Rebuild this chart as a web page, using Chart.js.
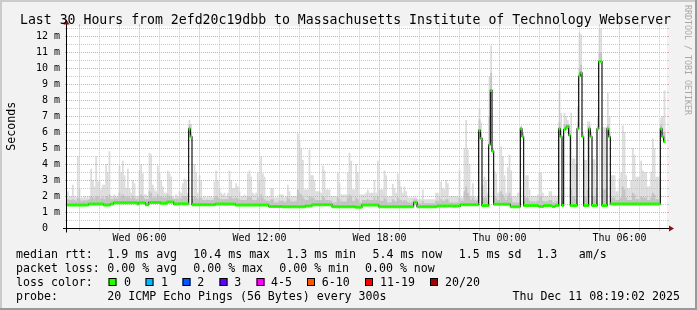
<!DOCTYPE html>
<html><head><meta charset="utf-8">
<script src="https://cdn.jsdelivr.net/npm/chart.js@4.4.1/dist/chart.umd.min.js"></script>
<style>html,body{margin:0;padding:0;background:#f2f2f2;}canvas{display:block;}</style>
</head><body>
<canvas id="c" width="697" height="310" style="width:697px;height:310px"></canvas>
<script>
const titleText = 'Last 30 Hours from 2efd20c19dbb to Massachusetts Institute of Technology Webserver';
const yAxisTitle = 'Seconds';
const watermark = 'RRDTOOL / TOBI OETIKER';

// time axis: one sample every 5 minutes, first sample starts Wed 02:24 (hours counted from Wed 00:00)
const startHour = 2.4;
const samplesPerHour = 12;
const xTickHours = [6, 12, 18, 24, 30];
const xTickLabels = ['Wed 06:00', 'Wed 12:00', 'Wed 18:00', 'Thu 00:00', 'Thu 06:00'];
const yTickValues = [0,1,2,3,4,5,6,7,8,9,10,11,12];
const yTickLabels = ['0  ','1 m','2 m','3 m','4 m','5 m','6 m','7 m','8 m','9 m','10 m','11 m','12 m'];

// median rtt in ms, one per 5-minute sample
const medianRtt = [
 1.44,1.44,1.44,1.44,1.44,1.44,1.44,1.44,1.44,1.44,
 1.44,1.44,1.44,1.5,1.5,1.5,1.5,1.5,1.5,1.5,
 1.5,1.5,1.44,1.44,1.44,1.44,1.5,1.5,1.58,1.58,
 1.58,1.58,1.58,1.58,1.58,1.58,1.58,1.58,1.58,1.58,
 1.58,1.58,1.5,1.58,1.58,1.58,1.58,1.45,1.45,1.6,
 1.6,1.6,1.6,1.6,1.6,1.6,1.55,1.55,1.55,1.55,
 1.62,1.62,1.62,1.62,1.5,1.5,1.5,1.52,1.52,1.52,
 1.52,1.52,1.52,6.2,5.7,1.46,1.46,1.46,1.46,1.46,
 1.46,1.46,1.46,1.46,1.46,1.46,1.46,1.46,1.46,1.5,
 1.5,1.5,1.5,1.5,1.5,1.5,1.5,1.5,1.5,1.5,
 1.5,1.44,1.44,1.44,1.44,1.44,1.44,1.44,1.44,1.44,
 1.44,1.44,1.44,1.44,1.44,1.44,1.44,1.44,1.44,1.44,
 1.44,1.35,1.35,1.35,1.35,1.35,1.35,1.35,1.35,1.33,
 1.33,1.33,1.33,1.33,1.33,1.33,1.33,1.33,1.33,1.33,
 1.33,1.33,1.33,1.38,1.38,1.38,1.38,1.45,1.45,1.45,
 1.45,1.45,1.45,1.45,1.45,1.45,1.45,1.45,1.45,1.33,
 1.33,1.33,1.33,1.33,1.33,1.33,1.33,1.33,1.33,1.33,
 1.33,1.33,1.33,1.3,1.3,1.3,1.3,1.44,1.44,1.44,
 1.44,1.44,1.44,1.44,1.44,1.44,1.44,1.33,1.33,1.33,
 1.33,1.33,1.33,1.33,1.33,1.33,1.33,1.33,1.33,1.33,
 1.33,1.33,1.33,1.33,1.33,1.33,1.33,1.33,1.6,1.6,
 1.33,1.33,1.33,1.33,1.33,1.33,1.33,1.33,1.33,1.33,
 1.33,1.33,1.37,1.37,1.37,1.37,1.37,1.37,1.37,1.37,
 1.37,1.37,1.37,1.37,1.37,1.37,1.46,1.46,1.46,1.46,
 1.46,1.46,1.46,1.46,1.46,1.46,1.46,6.1,5.6,1.4,
 1.4,1.4,1.4,5.2,8.6,4.8,1.48,1.48,1.48,1.48,
 1.48,1.48,1.48,1.48,1.48,1.48,1.33,1.33,1.33,1.33,
 1.33,1.33,6.2,5.7,1.4,1.4,1.4,1.4,1.4,1.4,
 1.4,1.4,1.4,1.35,1.35,1.35,1.4,1.4,1.4,1.4,
 1.4,1.35,1.35,1.4,1.4,6.2,5.7,1.4,6.15,6.25,
 6.35,5.8,1.4,1.4,1.4,1.4,6.2,9.5,9.7,5.7,
 1.4,1.4,1.4,6.2,5.7,1.4,1.4,1.4,6.2,10.4,
 10.4,1.4,1.4,1.4,6.2,5.7,1.5,1.5,1.5,1.5,
 1.5,1.5,1.5,1.5,1.5,1.5,1.5,1.5,1.5,1.5,
 1.5,1.5,1.5,1.5,1.5,1.5,1.5,1.5,1.5,1.5,
 1.5,1.5,1.5,1.5,1.5,1.5,6.2,5.7,5.4,null
];

// top of the smoke (highest ping) in ms
const smokeHigh = [
 2.3,2.0,2.0,2.7,2.0,1.9,4.5,2.5,1.9,1.9,
 2.0,1.9,2.0,1.9,3.7,3.0,2.6,4.5,2.9,3.0,
 2.4,2.7,2.7,4.0,3.5,4.8,2.0,2.0,2.1,2.0,
 2.0,3.9,3.5,4.2,3.3,2.5,3.7,2.5,2.2,3.0,
 2.8,2.0,2.0,3.6,4.0,3.4,2.1,2.1,2.0,4.7,
 4.6,2.7,2.4,2.3,3.9,3.5,3.0,2.6,2.2,2.2,
 3.6,3.4,3.2,2.0,1.9,2.1,2.0,2.3,2.2,2.8,
 3.1,3.0,2.2,6.75,6.5,2.0,4.0,3.5,2.2,3.3,
 3.0,1.9,2.0,1.9,2.0,1.9,2.0,1.9,2.9,3.6,
 3.0,2.5,2.2,2.1,2.2,2.0,2.2,3.6,3.0,2.5,
 2.5,2.8,2.6,2.3,2.0,2.0,2.1,2.0,3.4,3.6,
 3.2,2.2,2.1,2.2,3.5,3.0,4.5,3.4,3.2,2.0,
 2.0,2.0,2.5,2.5,1.9,1.9,1.9,2.1,2.1,2.1,
 1.9,2.0,2.7,2.3,2.0,2.0,2.0,2.0,5.9,5.5,
 5.0,4.25,2.4,2.4,2.4,4.9,3.3,3.3,3.0,2.3,
 2.3,2.3,2.2,3.9,3.6,2.4,2.4,2.4,2.0,2.0,
 2.0,2.0,3.5,2.8,2.1,2.1,2.1,2.1,3.5,4.7,
 4.2,2.4,2.4,4.0,3.5,2.1,2.1,2.1,2.1,2.2,
 2.4,2.2,2.2,2.2,3.0,2.2,4.2,2.4,2.4,2.4,
 3.6,3.3,2.0,2.0,2.0,2.75,2.5,2.2,3.4,3.0,
 2.6,2.2,2.6,2.3,1.9,1.9,1.9,1.9,1.95,1.9,
 1.8,1.8,1.8,2.4,1.8,1.8,1.8,1.8,1.8,1.8,
 1.8,2.2,2.2,2.0,2.9,2.5,2.4,3.0,2.8,2.0,
 2.0,2.0,2.0,2.0,2.0,3.6,1.9,1.9,5.0,6.75,
 4.9,4.0,2.0,2.8,2.0,1.9,2.0,7.5,6.6,2.7,
 3.2,3.0,2.2,9.5,11.4,5.0,3.6,3.4,2.2,2.2,
 5.1,4.5,3.3,2.2,3.8,4.6,3.6,2.0,2.0,2.0,
 2.2,2.2,6.4,6.0,2.0,3.3,3.3,2.4,2.0,2.0,
 2.0,2.0,2.1,3.5,3.5,2.2,2.0,2.0,2.0,2.3,
 2.3,2.0,2.0,2.0,2.0,8.6,7.2,2.0,7.2,7.0,
 6.75,6.5,7.2,4.35,4.35,4.0,7.6,12.2,12.1,6.0,
 4.25,4.25,6.65,6.65,6.0,4.3,4.3,2.5,7.0,12.5,
 12.5,6.3,6.3,6.3,8.45,7.0,3.3,3.3,3.3,2.3,
 2.3,3.1,3.5,6.4,6.0,3.3,2.5,2.5,3.0,5.0,
 4.6,3.2,3.2,3.2,4.2,3.6,3.5,3.5,2.6,2.6,
 3.5,5.6,5.0,3.2,3.2,3.2,6.9,7.0,8.6,null
];

// top of the dense (darker) part of the smoke in ms
const smokeDense = [
 1.8,1.75,1.75,1.8,1.75,1.7,1.9,1.8,1.7,1.7,
 1.75,1.7,1.75,1.8,2.0,1.9,1.85,2.0,2.0,1.9,
 1.85,1.9,1.8,2.0,1.9,2.1,1.8,1.8,1.9,1.85,
 1.85,2.2,2.0,2.1,2.0,1.9,2.0,1.9,1.85,2.0,
 1.9,1.8,1.8,2.0,2.1,2.0,1.85,1.8,1.8,2.3,
 2.2,1.9,1.9,1.9,2.1,2.0,2.0,1.9,1.9,1.9,
 2.1,2.0,2.0,1.85,1.8,1.85,1.8,1.9,1.85,2.0,
 2.0,2.0,1.85,6.5,6.0,1.8,2.0,1.9,1.8,1.9,
 1.9,1.75,1.75,1.75,1.75,1.75,1.75,1.75,1.9,2.0,
 1.9,1.85,1.8,1.8,1.8,1.8,1.8,2.0,1.9,1.85,
 1.85,1.9,1.85,1.8,1.75,1.75,1.75,1.75,1.9,2.0,
 1.9,1.75,1.75,1.75,1.9,1.8,2.1,1.9,1.8,1.7,
 1.7,1.65,1.8,1.8,1.6,1.6,1.6,1.7,1.7,1.7,
 1.6,1.65,1.9,1.8,1.65,1.65,1.65,1.7,2.4,2.2,
 2.1,1.9,1.8,1.75,1.75,2.0,1.9,1.9,1.85,1.75,
 1.75,1.75,1.75,2.0,1.9,1.75,1.75,1.75,1.7,1.6,
 1.6,1.6,1.9,1.8,1.65,1.65,1.65,1.65,1.9,2.1,
 2.0,1.7,1.7,1.9,1.8,1.6,1.6,1.75,1.75,1.75,
 1.8,1.75,1.75,1.75,1.9,1.75,2.0,1.7,1.7,1.7,
 1.9,1.8,1.6,1.6,1.6,1.8,1.7,1.65,1.9,1.8,
 1.75,1.65,1.75,1.7,1.6,1.6,1.6,1.6,1.8,1.8,
 1.55,1.55,1.55,1.7,1.55,1.55,1.55,1.55,1.55,1.55,
 1.55,1.7,1.7,1.6,1.8,1.7,1.7,1.8,1.8,1.6,
 1.6,1.6,1.6,1.6,1.6,1.9,1.7,1.7,2.3,2.6,
 2.2,2.0,1.75,1.9,1.75,1.7,1.75,6.8,6.0,1.9,
 1.9,1.9,1.7,7.0,9.7,4.9,2.0,1.9,1.75,1.75,
 2.3,2.1,1.9,1.75,2.0,2.2,1.9,1.6,1.6,1.6,
 1.6,1.6,6.3,5.9,1.7,1.9,1.9,1.7,1.65,1.65,
 1.65,1.65,1.7,2.0,2.0,1.7,1.65,1.65,1.65,1.75,
 1.75,1.6,1.6,1.65,1.65,6.6,6.1,1.7,6.5,6.5,
 6.5,6.1,2.5,2.0,2.0,1.8,6.6,10.0,10.2,5.8,
 2.0,2.0,2.4,6.4,5.85,2.0,2.0,1.8,6.4,11.0,
 11.0,2.4,2.4,2.4,6.5,6.0,1.9,1.9,1.9,1.75,
 1.75,1.8,1.9,2.6,2.4,1.9,1.75,1.75,1.75,2.2,
 2.1,1.8,1.8,1.8,2.0,1.9,1.9,1.9,1.75,1.75,
 1.9,2.2,2.1,1.8,1.8,1.8,6.5,6.0,6.0,null
];

const legendRows = [
  [[16,'median rtt:'],[107.3,'1.9 ms avg'],[193.3,'10.4 ms max'],[286.3,'1.3 ms min'],[372.5,'5.4 ms now'],[458.7,'1.5 ms sd'],[536.4,'1.3'],[578.7,'am/s']],
  [[16,'packet loss:'],[107.3,'0.00 % avg'],[193.3,'0.00 % max'],[279.3,'0.00 % min'],[365,'0.00 % now']],
  [[16,'loss color:']],
  [[16,'probe:'],[107.3,'20 ICMP Echo Pings (56 Bytes) every 300s']]
];
const legendBaselines = [258, 271.8, 285.7, 299.6];
const lossLabels = ['0','1','2','3','4-5','6-10','11-19','20/20'];
const lossColors = ['#26ff00','#00b8ff','#0059ff','#5e00ff','#ff00ff','#ff5500','#ff0000','#a10000'];
const lossBoxX = [108.5,145.5,182.5,219.5,256.5,307,365,430];
const lossTextX = [124,161,197.3,234.3,271,321.7,380,445];
const stampText = 'Thu Dec 11 08:19:02 2025';

const labels = medianRtt.map((_, i) => i);
const lightData = medianRtt.map((m, i) => (m === null || smokeHigh[i] === null) ? null : [m, smokeHigh[i]]);
const denseData = medianRtt.map((m, i) => (m === null || smokeDense[i] === null) ? null : [m, smokeDense[i]]);

const MONO = '"DejaVu Sans Mono", "Liberation Mono", monospace';
function hourToValue(h) { return (h - startHour) * samplesPerHour - 0.5; }

const rrdPlugin = {
  id: 'rrd',
  beforeDraw(chart) {
    const ctx = chart.ctx, a = chart.chartArea;
    ctx.save();
    ctx.fillStyle = '#f2f2f2'; ctx.fillRect(0, 0, 697, 310);
    ctx.fillStyle = '#cbcbcb'; ctx.fillRect(0, 0, 697, 2); ctx.fillRect(0, 0, 2, 310);
    ctx.fillStyle = '#999999'; ctx.fillRect(0, 308, 697, 2); ctx.fillRect(695, 0, 2, 310);
    ctx.fillStyle = '#ffffff'; ctx.fillRect(a.left, a.top, a.right - a.left, a.bottom - a.top);
    ctx.restore();
  },
  beforeDatasetDraw(chart, args) {
    if (args.meta.type !== 'line') return;
    const ctx = chart.ctx, a = chart.chartArea;
    const xs = chart.scales.x, ys = chart.scales.y;
    const red = '#eea0a0', gray = '#c8c8c8';
    ctx.save();
    ctx.lineWidth = 1;
    // horizontal grid each 0.5 ms
    for (let k = 1; k <= 25; k++) {
      const v = k * 0.5;
      if (v > ys.max) break;
      const y = Math.round(ys.getPixelForValue(v)) + 0.5;
      const col = (k % 2 === 0) ? red : gray;
      ctx.strokeStyle = col;
      ctx.setLineDash([1, 1]);
      ctx.beginPath(); ctx.moveTo(a.left, y); ctx.lineTo(a.right, y); ctx.stroke();
      ctx.setLineDash([]);
      ctx.beginPath(); ctx.moveTo(a.left - 2, y); ctx.lineTo(a.left, y);
      ctx.moveTo(a.right, y); ctx.lineTo(a.right + 2, y); ctx.stroke();
    }
    // vertical grid every hour, major every 3 hours
    for (let h = Math.ceil(startHour); hourToValue(h) < xs.max + 0.5; h++) {
      const x = Math.round(xs.getPixelForValue(hourToValue(h))) + 0.5;
      if (x >= a.right) break;
      ctx.strokeStyle = (h % 3 === 0) ? red : gray;
      ctx.setLineDash([1, 1]);
      ctx.beginPath(); ctx.moveTo(x, a.top); ctx.lineTo(x, a.bottom); ctx.stroke();
      ctx.setLineDash([]);
      ctx.beginPath(); ctx.moveTo(x, a.top - 2); ctx.lineTo(x, a.top);
      ctx.moveTo(x, a.bottom); ctx.lineTo(x, a.bottom + 3); ctx.stroke();
    }
    ctx.restore();
  },
  afterDraw(chart) {
    const ctx = chart.ctx, a = chart.chartArea;
    const xs = chart.scales.x, ys = chart.scales.y;
    ctx.save();
    // axes
    const x0 = Math.round(a.left) - 0.5, y0 = Math.round(ys.getPixelForValue(0)) + 0.5;
    ctx.strokeStyle = '#000'; ctx.lineWidth = 1;
    ctx.beginPath();
    ctx.moveTo(a.left - 4, y0); ctx.lineTo(a.right + 4, y0);
    ctx.moveTo(x0, y0 + 4); ctx.lineTo(x0, a.top - 4);
    ctx.stroke();
    ctx.fillStyle = '#8f1010';
    ctx.beginPath();
    ctx.moveTo(a.right + 2, y0 - 3); ctx.lineTo(a.right + 2, y0 + 3); ctx.lineTo(a.right + 7, y0); ctx.closePath(); ctx.fill();
    ctx.beginPath();
    ctx.moveTo(x0 - 3, a.top - 2); ctx.lineTo(x0 + 3, a.top - 2); ctx.lineTo(x0, a.top - 7); ctx.closePath(); ctx.fill();

    ctx.fillStyle = '#000';
    // title
    ctx.font = '13.2px ' + MONO;
    ctx.textAlign = 'center'; ctx.textBaseline = 'alphabetic';
    ctx.fillText(titleText, 345.5, 24);
    // y ticks
    ctx.font = '10px ' + MONO;
    ctx.textAlign = 'right'; ctx.textBaseline = 'middle';
    yTickValues.forEach((v, i) => ctx.fillText(yTickLabels[i], 60, ys.getPixelForValue(v) + 0.5));
    // x ticks
    ctx.textAlign = 'center'; ctx.textBaseline = 'alphabetic';
    xTickHours.forEach((h, i) => ctx.fillText(xTickLabels[i], xs.getPixelForValue(hourToValue(h)) + 0.5, 241));
    // y title
    ctx.font = '11.6px ' + MONO;
    ctx.save();
    ctx.translate(15, (a.top + a.bottom) / 2 - 1);
    ctx.rotate(-Math.PI / 2);
    ctx.textAlign = 'center'; ctx.textBaseline = 'alphabetic';
    ctx.fillText(yAxisTitle, 0, 0);
    ctx.restore();
    // watermark
    ctx.save();
    ctx.font = '8.3px ' + MONO;
    ctx.fillStyle = '#a8a8a8';
    ctx.translate(685, 5);
    ctx.rotate(Math.PI / 2);
    ctx.textAlign = 'left'; ctx.textBaseline = 'alphabetic';
    ctx.fillText(watermark, 0, 0);
    ctx.restore();
    // legend
    ctx.font = '11.6px ' + MONO;
    ctx.textAlign = 'left'; ctx.textBaseline = 'alphabetic';
    ctx.fillStyle = '#000';
    legendRows.forEach((row, r) => row.forEach(([x, t]) => ctx.fillText(t, x, legendBaselines[r])));
    lossLabels.forEach((t, i) => {
      ctx.fillStyle = lossColors[i];
      ctx.fillRect(lossBoxX[i], 278, 8, 8);
      ctx.strokeStyle = '#000'; ctx.lineWidth = 1;
      ctx.strokeRect(lossBoxX[i] + 0.5, 278.5, 7, 7);
      ctx.fillStyle = '#000';
      ctx.fillText(t, lossTextX[i], legendBaselines[2]);
    });
    ctx.textAlign = 'right';
    ctx.fillText(stampText, 680, legendBaselines[3]);
    ctx.restore();
  }
};

new Chart(document.getElementById('c'), {
  type: 'bar',
  data: {
    labels: labels,
    datasets: [
      { type: 'line', label: 'median', data: medianRtt, order: 1,
        borderColor: '#000000', borderWidth: 1.1, stepped: 'middle', spanGaps: false,
        pointStyle: 'line', pointRadius: 0.92, pointBorderWidth: 3,
        pointBorderColor: '#26ff00', pointBackgroundColor: '#26ff00', pointHoverRadius: 0 },
      { label: 'dense smoke', data: denseData, order: 2, grouped: false,
        backgroundColor: '#c2c2c2', borderWidth: 0, barPercentage: 1.08, categoryPercentage: 1 },
      { label: 'smoke', data: lightData, order: 3, grouped: false,
        backgroundColor: '#dcdcdc', borderWidth: 0, barPercentage: 1.08, categoryPercentage: 1 }
    ]
  },
  options: {
    responsive: false,
    devicePixelRatio: 1,
    animation: false,
    events: [],
    layout: { padding: { left: 67, right: 30, top: 26.4, bottom: 82 } },
    plugins: { legend: { display: false }, tooltip: { enabled: false }, title: { display: false } },
    scales: {
      x: { type: 'category', display: false, offset: true },
      y: { type: 'linear', display: false, min: 0, max: 12.6 }
    }
  },
  plugins: [rrdPlugin]
});
</script>
</body></html>
